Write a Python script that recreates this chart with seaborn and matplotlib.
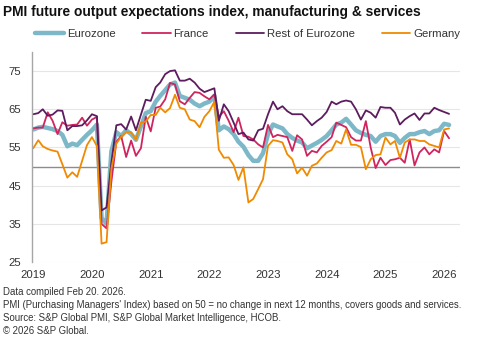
import matplotlib
matplotlib.use("Agg")
import matplotlib.pyplot as plt
import seaborn as sns
import pandas as pd
import numpy as np

sns.set_theme(style="white")
plt.rcParams['font.family'] = ['Liberation Sans', 'DejaVu Sans']

dates = pd.date_range('2019-01-01', periods=86, freq='MS')

eurozone = [59.7, 60.2, 60.4, 60.1, 59.8, 59.3, 58.3, 55.3, 56.0, 55.6, 57.0, 58.3, 59.5, 61.0,
            36.5, 35.0,
            54.0, 59.0, 58.0, 59.5, 58.5, 57.0, 60.5, 64.0, 64.5, 67.0, 68.5, 70.0, 71.5, 72.0,
            68.5, 68.0, 67.5, 66.5, 65.8, 66.5, 67.0, 68.5,
            59.5, 60.5, 59.8, 58.5, 56.5, 55.2, 53.0, 51.5, 51.5, 53.5, 58.5, 61.0, 60.5, 60.0,
            58.5, 57.5, 56.8, 56.3, 54.8, 55.5, 56.2, 57.0, 58.0, 59.5, 61.0, 61.5, 62.5, 61.0,
            59.5, 58.8, 58.3, 58.0, 56.5, 58.0, 58.5, 58.5, 58.0, 56.2, 57.5, 58.5, 58.5, 59.0,
            59.3, 58.5, 59.3, 59.5, 61.2, 60.9]

france = [60.0, 60.2, 60.2, 64.2, 62.0, 58.5, 61.6, 60.7, 60.9, 61.0, 62.8, 60.7, 62.3, 63.0,
          35.0, 33.8,
          46.0, 56.5, 58.0, 52.5, 56.8, 52.8, 54.8, 63.0, 59.2, 65.4, 65.7, 67.6, 71.9, 71.5,
          67.1, 66.3, 68.0, 69.5, 69.3, 68.4, 67.6, 68.9,
          63.0, 64.5, 62.0, 59.0, 62.8, 58.0, 57.8,
          57.1, 55.8, 55.0, 60.9, 57.7, 58.3, 58.0, 57.7, 54.1, 58.2, 57.1, 52.8, 54.1, 53.7,
          55.4, 56.5, 57.7, 61.5, 60.9, 60.3, 57.7, 56.8, 56.8, 61.9, 55.0, 49.6, 52.3, 50.4,
          51.7, 51.9, 52.3, 51.0, 57.1, 50.3, 53.7, 55.0, 53.2, 54.5, 53.7, 59.3, 57.4]

rest_of_eurozone = [63.7, 64.0, 65.0, 63.3, 63.6, 64.7, 64.6, 59.5, 60.6, 60.6, 60.8, 62.1, 63.7, 63.2,
                    38.5, 39.3,
                    51.0, 60.8, 61.1, 59.7, 63.1, 59.5, 63.6, 67.5, 67.2, 70.8, 72.0, 74.2, 75.0, 75.2,
                    72.5, 72.5, 73.0, 72.0, 70.4, 69.5, 70.0, 70.5,
                    62.0, 66.3, 64.5, 61.5, 58.5, 58.9, 57.1,
                    56.8, 59.5, 59.9, 63.7, 67.0, 65.0, 65.8, 64.5, 63.7, 63.7, 63.7, 62.3, 60.8, 61.9,
                    62.8, 64.3, 67.0, 66.3, 67.0, 67.3, 67.0, 65.0, 62.3, 64.7, 64.1, 62.8, 65.6, 65.4,
                    65.4, 64.1, 61.0, 62.3, 63.2, 63.9, 62.2, 63.9, 63.9, 65.4, 64.8, 64.3, 63.8]

germany = [54.8, 56.9, 55.3, 54.6, 54.2, 53.9, 50.6, 47.1, 48.5, 47.3, 51.5, 55.6, 57.7, 55.4,
           29.8, 30.2,
           49.5, 56.0, 57.8, 59.0, 59.0, 57.0, 61.5, 61.8, 63.5, 63.5, 65.4, 64.2, 65.3, 68.8,
           65.4, 65.0, 62.3, 61.9, 60.3, 63.0, 64.5, 67.0,
           54.4, 52.3, 52.4, 50.4, 46.5, 49.8, 40.6,
           41.5, 44.1, 46.7, 55.4, 56.9, 56.7, 56.3, 53.2, 51.9, 48.2, 49.7, 47.6, 50.2, 50.8,
           52.3, 53.7, 54.3, 56.7, 56.0, 59.7, 55.7, 55.7, 55.1, 49.3, 51.9, 53.0, 53.2, 57.6,
           55.8, 56.7, 52.3, 56.3, 57.1, 57.1, 56.7, 56.7, 55.8, 55.4, 55.0, 59.7, 60.0]

series_names = ['Eurozone', 'France', 'Rest of Eurozone', 'Germany']
series_vals = [eurozone, france, rest_of_eurozone, germany]
colors = ['#7db8c8', '#d0245e', '#5c1c5e', '#f08a00']
widths = [3.2, 1.3, 1.3, 1.3]

year_ticks = list(range(2019, 2027))
y_ticks = [25, 35, 45, 55, 65, 75]

fig = plt.figure(figsize=(4.84, 3.38), dpi=100)
ax = fig.add_axes([32/484, 1-262/338, (460-32)/484, (262-52)/338])

for name, vals, c, w in zip(series_names, series_vals, colors, widths):
    sns.lineplot(x=dates, y=vals, ax=ax, color=c, linewidth=w, label=name)

ax.set_ylim(25, 80)
ax.set_xlim(pd.Timestamp('2018-12-24'), pd.Timestamp('2026-04-10'))
ax.set_yticks(y_ticks)
ax.set_xticks([pd.Timestamp(f'{y}-01-01') for y in year_ticks])
ax.set_xticklabels([str(y) for y in year_ticks])
ax.tick_params(axis='both', labelsize=8.2, colors='#333333', length=0)
ax.tick_params(axis='x', pad=6)
ax.tick_params(axis='y', pad=8)
ax.set_xlabel('')
ax.set_ylabel('')
for t in y_ticks:
    ax.axhline(t, color='#e6e6e6', lw=0.8, zorder=0)
ax.axhline(50, color='#8c8c8c', lw=1.0, zorder=0.5)
for s in ['top', 'right', 'bottom']:
    ax.spines[s].set_visible(False)
ax.spines['left'].set_color('#a6a6a6')
ax.spines['left'].set_linewidth(1.0)
ax.grid(False)

handles, _ = ax.get_legend_handles_labels()
ax.get_legend().remove()
fig.legend(handles=handles, labels=series_names, loc='center', bbox_to_anchor=(0.512, 1-34/338),
           ncol=4, frameon=False, fontsize=8.2, handlelength=2.5, handletextpad=0.25,
           columnspacing=2.35, labelcolor='#333333')

fig.text(3/484, 1-12/338, 'PMI future output expectations index, manufacturing & services',
         fontsize=9.9, fontweight='bold', va='center', ha='left', color='#111111')

foot = ["Data compiled Feb 20. 2026.",
        "PMI (Purchasing Managers' Index) based on 50 = no change in next 12 months, covers goods and services.",
        "Source: S&P Global PMI, S&P Global Market Intelligence, HCOB.",
        "\u00a9 2026 S&P Global."]
for i, line in enumerate(foot):
    fig.text(3/484, 1-(292+13*i)/338, line, fontsize=6.9, va='center', ha='left', color='#333333')

fig.savefig('out.png', dpi=100)
